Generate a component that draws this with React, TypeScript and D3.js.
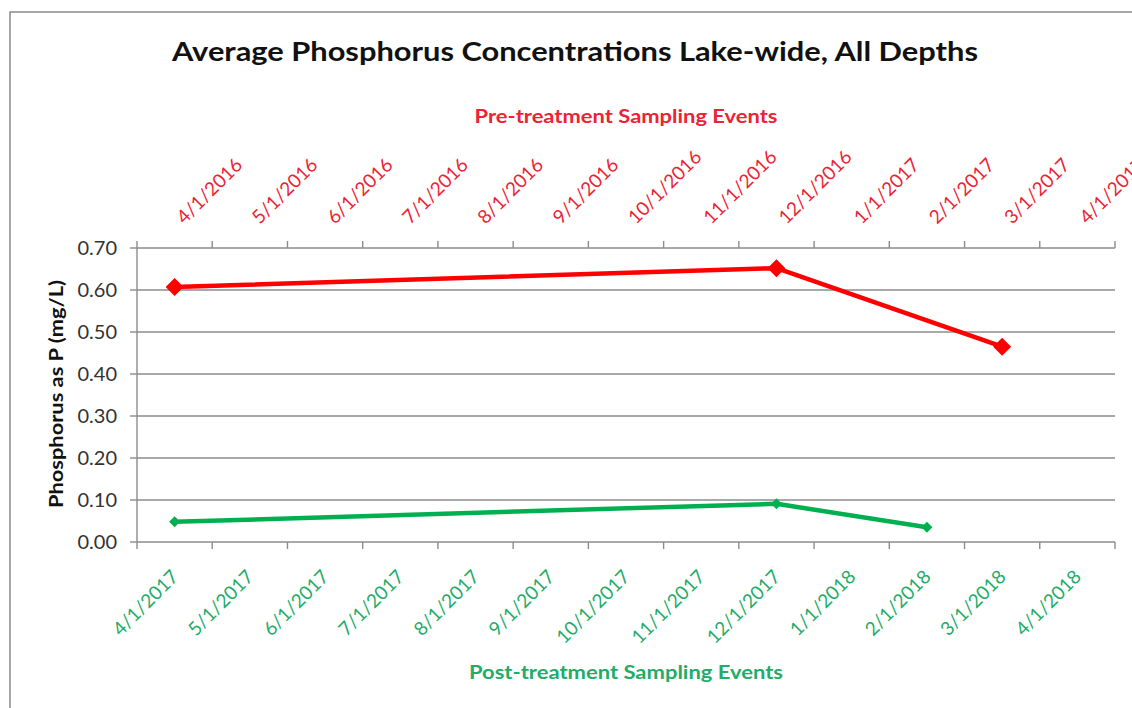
import React from "react";
import * as d3 from "d3";

const title = "Average Phosphorus Concentrations Lake-wide, All Depths";
const topAxisTitle = "Pre-treatment Sampling Events";
const bottomAxisTitle = "Post-treatment Sampling Events";
const yAxisTitle = "Phosphorus as P (mg/L)";

const topMonths = [
  "4/1/2016", "5/1/2016", "6/1/2016", "7/1/2016", "8/1/2016", "9/1/2016", "10/1/2016",
  "11/1/2016", "12/1/2016", "1/1/2017", "2/1/2017", "3/1/2017", "4/1/2017",
];
const bottomMonths = [
  "4/1/2017", "5/1/2017", "6/1/2017", "7/1/2017", "8/1/2017", "9/1/2017", "10/1/2017",
  "11/1/2017", "12/1/2017", "1/1/2018", "2/1/2018", "3/1/2018", "4/1/2018",
];
const preDates = ["4/1/2016", "12/1/2016", "3/1/2017"];
const preValues = [0.607, 0.652, 0.465];
const postDates = ["4/1/2017", "12/1/2017", "2/1/2018"];
const postValues = [0.048, 0.091, 0.035];
const yTicks = [0, 0.1, 0.2, 0.3, 0.4, 0.5, 0.6, 0.7];

const W = 1132;
const H = 708;
const left = 137;
const right = 1115;
const top = 248;
const bottom = 542;
const FONT = "Lato, 'Open Sans', sans-serif";
const RED = "#ff0000";
const GREEN = "#00b050";
const RED_TXT = "#ee2233";
const GREEN_TXT = "#22ac68";

export default function App() {
  const xTop = d3.scaleBand<string>().domain(topMonths).range([left, right]).padding(0);
  const xBot = d3.scaleBand<string>().domain(bottomMonths).range([left, right]).padding(0);
  const y = d3.scaleLinear().domain([0, 0.7]).range([bottom, top]);
  const bw = xTop.bandwidth();

  const prePts: [number, number][] = preDates.map((d, i) => [xTop(d)! + bw / 2, y(preValues[i])]);
  const postPts: [number, number][] = postDates.map((d, i) => [xBot(d)! + bw / 2, y(postValues[i])]);
  const line = d3.line();

  const diamond = (cx: number, cy: number, r: number) =>
    `M${cx},${cy - r}L${cx + r},${cy}L${cx},${cy + r}L${cx - r},${cy}Z`;

  const topTickXs = topMonths.map((m) => xTop(m)!).concat([right]);
  const botTickXs = bottomMonths.map((m) => xBot(m)!).concat([right]);

  return (
    <svg
      width={W}
      height={H}
      style={{ position: "absolute", left: 0, top: 0, background: "#fff" }}
      fontFamily={FONT}
    >
      <rect x={10} y={12} width={1300} height={900} fill="#fff" stroke="#8a8a8a" strokeWidth={1.5} />

      <text x={575} y={61} textAnchor="middle" fontWeight="bold" fontSize={27} fill="#111"
        textLength={806} lengthAdjust="spacingAndGlyphs">{title}</text>

      <text x={626} y={123} textAnchor="middle" fontWeight="bold" fontSize={19} fill={RED_TXT}
        textLength={303} lengthAdjust="spacingAndGlyphs">{topAxisTitle}</text>

      <text x={626} y={679} textAnchor="middle" fontWeight="bold" fontSize={19} fill={GREEN_TXT}
        textLength={314} lengthAdjust="spacingAndGlyphs">{bottomAxisTitle}</text>

      <text transform={`translate(63,394) rotate(-90)`} textAnchor="middle" fontWeight="bold" fontSize={18}
        fill="#111" textLength={228} lengthAdjust="spacingAndGlyphs">{yAxisTitle}</text>

      {/* gridlines */}
      {yTicks.map((t) => (
        <line key={"g" + t} x1={left} x2={right} y1={y(t)} y2={y(t)} stroke="#8c8c8c" strokeWidth={1.4} />
      ))}
      {/* y axis */}
      <line x1={left} x2={left} y1={top} y2={bottom} stroke="#8c8c8c" strokeWidth={1.4} />
      {yTicks.map((t) => (
        <g key={"yt" + t}>
          <line x1={left - 7} x2={left} y1={y(t)} y2={y(t)} stroke="#8c8c8c" strokeWidth={1.4} />
          <text x={117} y={y(t) + 7} textAnchor="end" fontSize={20} fill="#333">{t.toFixed(2)}</text>
        </g>
      ))}

      {/* top axis ticks and labels */}
      {topTickXs.map((x, i) => (
        <line key={"tt" + i} x1={x} x2={x} y1={top} y2={top - 7} stroke="#8c8c8c" strokeWidth={1.4} />
      ))}
      {topMonths.map((m) => (
        <text key={"tl" + m} transform={`translate(${xTop(m)! + bw / 2 + 10},${top - 23}) rotate(-45)`}
          textAnchor="start" fontSize={19} fill={RED_TXT}>{m}</text>
      ))}

      {/* bottom axis ticks and labels */}
      {botTickXs.map((x, i) => (
        <line key={"bt" + i} x1={x} x2={x} y1={bottom} y2={bottom + 7} stroke="#8c8c8c" strokeWidth={1.4} />
      ))}
      {bottomMonths.map((m) => (
        <text key={"bl" + m} transform={`translate(${xBot(m)! + bw / 2 + 5},${bottom + 36}) rotate(-45)`}
          textAnchor="end" fontSize={19} fill={GREEN_TXT}>{m}</text>
      ))}

      {/* series */}
      <path d={line(prePts) ?? ""} fill="none" stroke={RED} strokeWidth={4.5} strokeLinejoin="round" />
      {prePts.map(([cx, cy], i) => (
        <path key={"pm" + i} d={diamond(cx, cy, 9)} fill={RED} />
      ))}
      <path d={line(postPts) ?? ""} fill="none" stroke={GREEN} strokeWidth={4.5} strokeLinejoin="round" />
      {postPts.map(([cx, cy], i) => (
        <path key={"qm" + i} d={diamond(cx, cy, 5.5)} fill={GREEN} />
      ))}
    </svg>
  );
}
